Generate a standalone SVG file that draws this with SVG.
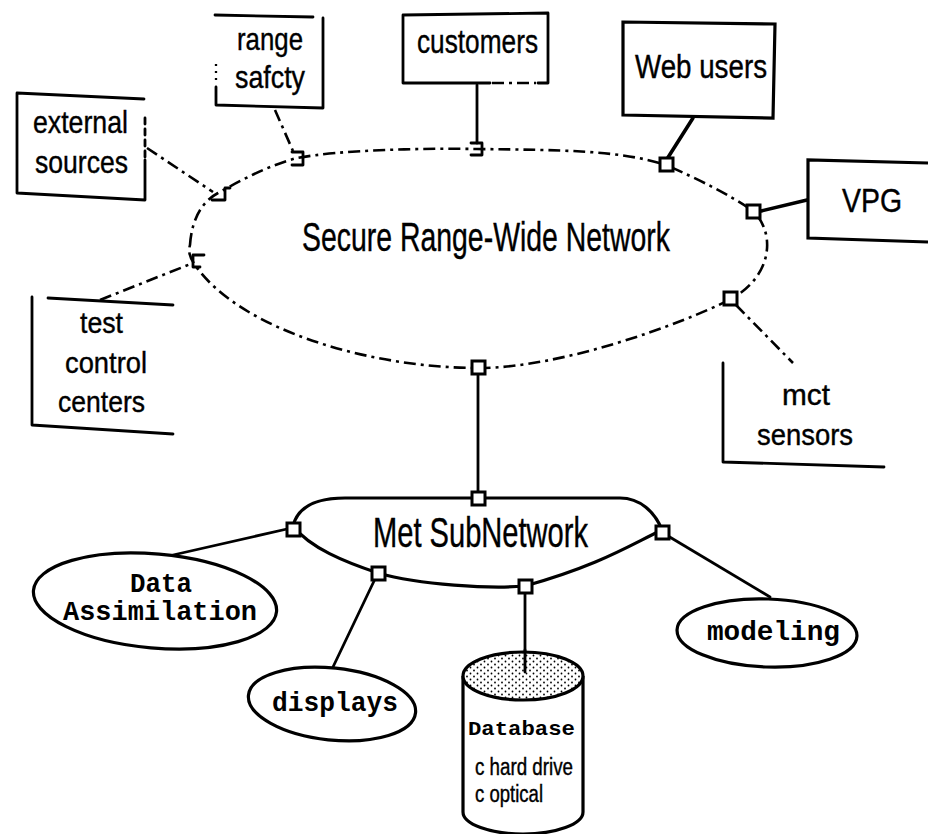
<svg xmlns="http://www.w3.org/2000/svg" width="928" height="834" viewBox="0 0 928 834">
<style>
.sans{font-family:"Liberation Sans",Arial,sans-serif;fill:#000;stroke:#000;stroke-width:0.4}
.mono{font-family:"Liberation Mono","Courier New",monospace;fill:#000;font-weight:bold}
.ln{fill:none;stroke:#000;stroke-width:2.8;stroke-linecap:round;stroke-linejoin:round}
.thk{fill:none;stroke:#000;stroke-width:3.6;stroke-linecap:round}
.dd{fill:none;stroke:#000;stroke-width:2.6;stroke-dasharray:12 5 3 5}
.dot{fill:none;stroke:#000;stroke-width:2.3;stroke-dasharray:2 5}
.port{fill:#fff;stroke:#000;stroke-width:3}
.shape{fill:#fff;stroke:#000;stroke-width:3.2}
</style>
<defs>
<pattern id="stip" width="7" height="6" patternUnits="userSpaceOnUse">
<rect width="7" height="6" fill="#fff"/>
<circle cx="1.5" cy="1.5" r="0.9" fill="#000"/>
<circle cx="5" cy="4.5" r="0.9" fill="#000"/>
</pattern>
</defs>
<rect width="928" height="834" fill="#fff"/>

<g id="connectors">
<path class="dd" d="M147,148 L213,192"/>
<path class="dd" d="M275,110 L293,151"/>
<path class="ln" d="M477,85 L477,143"/>
<path class="thk" d="M693,118 L667,159"/>
<path class="thk" d="M761,211 L807,200"/>
<path class="dd" d="M100,300 L193,263"/>
<path class="dd" d="M736,305 L793,363"/>
<path class="ln" d="M478,375 L478,492"/>
<path class="ln" d="M173,555 L287,529"/>
<path class="ln" d="M333,667 L375,579"/>
<path class="ln" d="M525,592 L525,672"/>
<path class="ln" d="M668,536 L770,597"/>
</g>

<g id="secure-network">
<path class="dd" d="M190,245 C192,215 205,200 218,193 C245,178 270,165 297,158 C340,150 420,148 477,149 C560,150 620,150 666,165 C700,180 730,195 753,211 C775,232 774,275 731,299 C680,325 560,368 479,368 C370,368 240,330 195,265 C190,258 188,252 190,245 Z"/>
<text class="sans" x="302" y="251" font-size="40" textLength="368" lengthAdjust="spacingAndGlyphs">Secure Range-Wide Network</text>
<path class="ln" d="M212,200 L225,200 L225,188 L230,188"/>
<path class="ln" d="M292,152 L303,152 L303,165 L292,165"/>
<path class="ln" d="M471,143 L482,143 L482,155 L471,155"/>
<path class="ln" d="M204,255 L193,255 L193,267 L200,267"/>
<rect class="port" x="660" y="158" width="13" height="13"/>
<rect class="port" x="747" y="205" width="13" height="13"/>
<rect class="port" x="724" y="292" width="13" height="13"/>
<rect class="port" x="472" y="361" width="13" height="13"/>
</g>

<g id="external-sources">
<path class="ln" d="M145,118 L145,160" stroke-dasharray="6 5"/>
<path class="ln" d="M144,99 L17,93 L17,193 L145,200 L145,160"/>
<text class="sans" x="33" y="133" font-size="32" textLength="95" lengthAdjust="spacingAndGlyphs">external</text>
<text class="sans" x="35" y="173" font-size="32" textLength="93" lengthAdjust="spacingAndGlyphs">sources</text>
</g>

<g id="range-safety">
<path class="ln" d="M215,15 L313,17 M323,18 L323,108 L216,105 L216,87"/>
<path class="dot" d="M216,64 L216,82"/>
<text class="sans" x="237" y="50" font-size="32" textLength="66" lengthAdjust="spacingAndGlyphs">range</text>
<text class="sans" x="235" y="88" font-size="32" textLength="70" lengthAdjust="spacingAndGlyphs">safcty</text>
</g>

<g id="customers">
<path class="ln" d="M490,83 L403,83 L403,15 L548,13 L548,83 L538,83"/>
<path class="dd" d="M492,83 L536,83"/>
<text class="sans" x="417" y="53" font-size="34" textLength="121" lengthAdjust="spacingAndGlyphs">customers</text>
</g>

<g id="web-users">
<path class="shape" d="M623,22 L775,24 L773,118 L623,115 Z"/>
<text class="sans" x="635" y="78" font-size="33" textLength="132" lengthAdjust="spacingAndGlyphs">Web users</text>
</g>

<g id="vpg">
<path class="shape" d="M928,163 L808,160 L808,238 L928,242"/>
<text class="sans" x="842" y="212" font-size="34" textLength="60" lengthAdjust="spacingAndGlyphs">VPG</text>
</g>

<g id="test-control-centers">
<path class="ln" d="M48,298 L173,305 M32,297 L32,425 L173,434"/>
<text class="sans" x="80" y="333" font-size="30" textLength="43" lengthAdjust="spacingAndGlyphs">test</text>
<text class="sans" x="65" y="373" font-size="30" textLength="82" lengthAdjust="spacingAndGlyphs">control</text>
<text class="sans" x="58" y="412" font-size="30" textLength="87" lengthAdjust="spacingAndGlyphs">centers</text>
</g>

<g id="met-sensors">
<path class="ln" d="M723,363 L723,462 L884,467"/>
<text class="sans" x="782" y="405" font-size="30" textLength="48" lengthAdjust="spacingAndGlyphs">mct</text>
<text class="sans" x="757" y="445" font-size="30" textLength="96" lengthAdjust="spacingAndGlyphs">sensors</text>
</g>

<g id="met-subnetwork">
<path class="shape" d="M293,526 C298,506 318,498 345,498 L620,498 C640,498 655,512 662,530 C630,545 600,565 525,586 C490,589 420,585 378,573 C345,562 310,548 293,526 Z"/>
<text class="sans" x="373" y="547" font-size="43" textLength="215" lengthAdjust="spacingAndGlyphs">Met SubNetwork</text>
<rect class="port" x="472" y="492" width="13" height="13"/>
<rect class="port" x="287" y="523" width="13" height="13"/>
<rect class="port" x="372" y="567" width="13" height="13"/>
<rect class="port" x="519" y="580" width="13" height="13"/>
<rect class="port" x="656" y="526" width="13" height="13"/>
</g>

<g id="data-assimilation">
<ellipse class="shape" cx="155" cy="601" rx="122" ry="47" transform="rotate(5 155 601)"/>
<text class="mono" x="130" y="592" font-size="27" textLength="62" lengthAdjust="spacingAndGlyphs">Data</text>
<text class="mono" x="63" y="620" font-size="27" textLength="194" lengthAdjust="spacingAndGlyphs">Assimilation</text>
</g>

<g id="displays">
<ellipse class="shape" cx="332" cy="704" rx="84" ry="36" transform="rotate(6 332 704)"/>
<text class="mono" x="272" y="711" font-size="27" textLength="126" lengthAdjust="spacingAndGlyphs">displays</text>
</g>

<g id="modeling">
<ellipse class="shape" cx="767" cy="633" rx="90" ry="34" transform="rotate(2 767 633)"/>
<text class="mono" x="707" y="640" font-size="27" textLength="133" lengthAdjust="spacingAndGlyphs">modeling</text>
</g>

<g id="database">
<path class="shape" d="M463,676 L463,812 A60,22 0 0 0 583,812 L583,676"/>
<ellipse cx="523" cy="676" rx="60" ry="24" fill="url(#stip)" stroke="#000" stroke-width="3.2"/>
<path class="ln" d="M525,650 L525,672"/>
<text class="mono" x="468" y="735" font-size="21" textLength="107" lengthAdjust="spacingAndGlyphs">Database</text>
<text class="sans" x="475" y="775" font-size="23" textLength="98" lengthAdjust="spacingAndGlyphs">c hard drive</text>
<text class="sans" x="475" y="802" font-size="23" textLength="68" lengthAdjust="spacingAndGlyphs">c optical</text>
</g>
</svg>
